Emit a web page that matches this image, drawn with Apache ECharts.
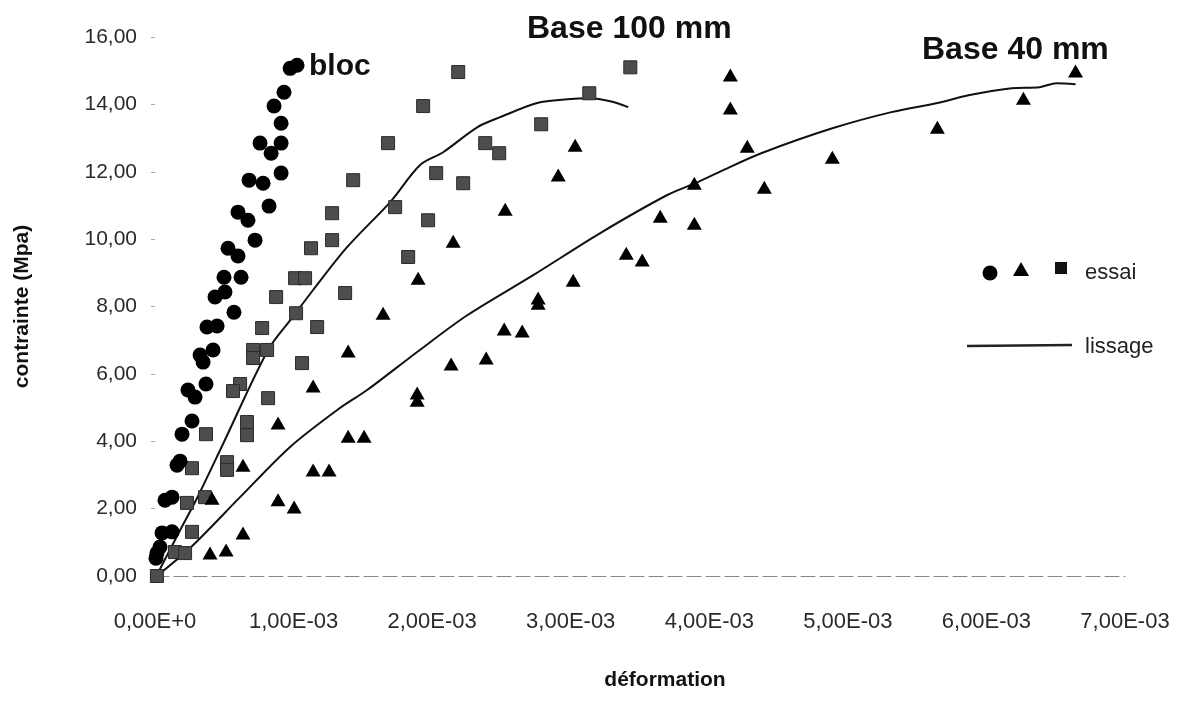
<!DOCTYPE html>
<html>
<head>
<meta charset="utf-8">
<title>contrainte - déformation</title>
<script src="https://cdn.jsdelivr.net/npm/echarts@6/dist/echarts.min.js"></script>
<style>
  html, body { margin: 0; padding: 0; background: #fff; }
  #main { width: 1188px; height: 714px; }
</style>
</head>
<body>
<div id="main"></div>
<script>
// essais "bloc" (cercles) : [déformation, contrainte MPa]
var blocPoints = [
  [0.000007, 0.53], [0.000014, 0.68], [0.000036, 0.86], [0.000051, 1.28], [0.000123, 1.31],
  [0.000072, 2.25], [0.000123, 2.34], [0.000159, 3.29], [0.000181, 3.41], [0.000195, 4.21],
  [0.000267, 4.60], [0.000289, 5.31], [0.000238, 5.52], [0.000368, 5.70], [0.000347, 6.35],
  [0.000325, 6.56], [0.000419, 6.71], [0.000375, 7.39], [0.000448, 7.42], [0.000570, 7.83],
  [0.000433, 8.28], [0.000505, 8.43], [0.000498, 8.87], [0.000621, 8.87], [0.000599, 9.50],
  [0.000527, 9.73], [0.000722, 9.97], [0.000671, 10.56], [0.000599, 10.80], [0.000823, 10.98],
  [0.000780, 11.66], [0.000679, 11.75], [0.000910, 11.96], [0.000838, 12.55], [0.000758, 12.85],
  [0.000910, 12.85], [0.000910, 13.44], [0.000859, 13.95], [0.000931, 14.36], [0.000975, 15.07],
  [0.001025, 15.16]
];

// essais base 100 mm (carrés)
var base100Points = [
  [0.000014, 0.00], [0.000144, 0.71], [0.000217, 0.68], [0.000267, 1.31], [0.000231, 2.17],
  [0.000361, 2.34], [0.000267, 3.20], [0.000520, 3.38], [0.000520, 3.15], [0.000368, 4.21],
  [0.000664, 4.57], [0.000664, 4.18], [0.000816, 5.28], [0.000614, 5.70], [0.000563, 5.49],
  [0.000708, 6.71], [0.000809, 6.71], [0.000708, 6.47], [0.001061, 6.32], [0.000773, 7.36],
  [0.001018, 7.80], [0.001170, 7.39], [0.000874, 8.28], [0.001011, 8.84], [0.001083, 8.84],
  [0.001372, 8.40], [0.001126, 9.73], [0.001278, 9.97], [0.001278, 10.77], [0.001827, 9.47],
  [0.001733, 10.95], [0.001971, 10.56], [0.001430, 11.75], [0.002029, 11.96], [0.002224, 11.66],
  [0.001682, 12.85], [0.002383, 12.85], [0.002484, 12.55], [0.001935, 13.95], [0.002787, 13.41],
  [0.002188, 14.96], [0.003134, 14.33], [0.003430, 15.10]
];

// essais base 40 mm (triangles)
var base40Points = [
  [0.000397, 0.68], [0.000513, 0.77], [0.000635, 1.28], [0.000412, 2.31], [0.000888, 2.26],
  [0.001004, 2.05], [0.001141, 3.15], [0.001256, 3.15], [0.000635, 3.29], [0.001394, 4.15],
  [0.001509, 4.15], [0.000888, 4.54], [0.001141, 5.64], [0.001892, 5.43], [0.001892, 5.22],
  [0.001394, 6.68], [0.002137, 6.29], [0.002390, 6.47], [0.002520, 7.33], [0.002650, 7.27],
  [0.001646, 7.80], [0.002765, 8.25], [0.002765, 8.10], [0.003018, 8.78], [0.001899, 8.84],
  [0.002152, 9.94], [0.003401, 9.58], [0.003516, 9.38], [0.002527, 10.89], [0.003646, 10.68],
  [0.003892, 10.47], [0.002910, 11.90], [0.003892, 11.66], [0.004397, 11.54], [0.003032, 12.79],
  [0.004274, 12.76], [0.004888, 12.43], [0.005646, 13.32], [0.004152, 13.89], [0.004152, 14.87],
  [0.006267, 14.18], [0.006643, 14.99]
];

// courbes de lissage
var lissage100 = [
  [0.000014, 0.03], [0.000181, 1.36], [0.000303, 2.31], [0.000491, 3.92], [0.000816, 6.71],
  [0.000989, 7.66], [0.001141, 8.49], [0.001386, 9.76], [0.001697, 11.10], [0.001913, 12.20],
  [0.002079, 12.58], [0.002325, 13.32], [0.002491, 13.62], [0.002758, 14.04], [0.002975, 14.15],
  [0.003141, 14.18], [0.003285, 14.09], [0.003415, 13.92]
];
var lissage40 = [
  [0.000022, 0.03], [0.000253, 0.83], [0.000614, 2.34], [0.000975, 3.83], [0.001336, 4.99],
  [0.001531, 5.52], [0.001892, 6.65], [0.002253, 7.74], [0.002729, 8.93], [0.003213, 10.18],
  [0.003697, 11.31], [0.003899, 11.66], [0.004101, 12.05], [0.004375, 12.55], [0.004888, 13.29],
  [0.005314, 13.77], [0.005646, 14.04], [0.005870, 14.27], [0.006181, 14.48], [0.006383, 14.51],
  [0.006505, 14.63], [0.006643, 14.60]
];

var xTickLabels = ["0,00E+0", "1,00E-03", "2,00E-03", "3,00E-03", "4,00E-03", "5,00E-03", "6,00E-03", "7,00E-03"];
var yTickLabels = ["0,00", "2,00", "4,00", "6,00", "8,00", "10,00", "12,00", "14,00", "16,00"];

var FONT = '"Liberation Sans", Arial, sans-serif';
var chart = echarts.init(document.getElementById("main"));

chart.setOption({
  backgroundColor: "#fff",
  animation: false,
  grid: { left: 155, right: 63, top: 37, bottom: 138 },
  xAxis: {
    type: "value",
    min: 0,
    max: 0.007,
    interval: 0.001,
    name: "déformation",
    nameLocation: "middle",
    nameGap: 94,
    nameTextStyle: { fontFamily: FONT, fontSize: 21, fontWeight: "bold", color: "#111", padding: [0, 0, 0, 50] },
    axisLine: { show: true, lineStyle: { color: "#888", width: 1, type: [14, 5] } },
    axisTick: { show: false },
    splitLine: { show: false },
    axisLabel: {
      margin: 35,
      fontFamily: FONT,
      fontSize: 22,
      color: "#2a2a2a",
      formatter: function (v) { return xTickLabels[Math.round(v / 0.001)]; }
    }
  },
  yAxis: {
    type: "value",
    min: 0,
    max: 16,
    interval: 2,
    name: "contrainte (Mpa)",
    nameLocation: "middle",
    nameGap: 122,
    nameTextStyle: { fontFamily: FONT, fontSize: 21, fontWeight: "bold", color: "#111" },
    axisLine: { show: false },
    axisTick: { show: true, length: 4, lineStyle: { color: "#aaa" } },
    splitLine: { show: false },
    axisLabel: {
      margin: 18,
      fontFamily: FONT,
      fontSize: 21,
      color: "#2a2a2a",
      formatter: function (v) { return yTickLabels[Math.round(v / 2)]; }
    }
  },
  series: [
    {
      name: "lissage base 40 mm",
      type: "line",
      data: lissage40,
      smooth: 0.3,
      showSymbol: false,
      lineStyle: { color: "#111", width: 2 },
      z: 1
    },
    {
      name: "lissage base 100 mm",
      type: "line",
      data: lissage100,
      smooth: 0.3,
      showSymbol: false,
      lineStyle: { color: "#111", width: 2 },
      z: 1
    },
    {
      name: "bloc",
      type: "scatter",
      symbol: "circle",
      symbolSize: 15,
      data: blocPoints,
      itemStyle: { color: "#000", opacity: 1 },
      z: 3
    },
    {
      name: "base 100 mm",
      type: "scatter",
      symbol: "rect",
      symbolSize: 13,
      data: base100Points,
      itemStyle: { color: "#4d4d4d", borderColor: "#2a2a2a", borderWidth: 1, opacity: 1 },
      z: 2
    },
    {
      name: "base 40 mm",
      type: "scatter",
      symbol: "triangle",
      symbolSize: [15, 13],
      data: base40Points,
      itemStyle: { color: "#000", opacity: 1 },
      z: 2
    }
  ],
  graphic: [
    { type: "text", left: 309, top: 52, style: { text: "bloc", fontFamily: FONT, fontSize: 30, fontWeight: "bold", fill: "#111" } },
    { type: "text", left: 527, top: 13, style: { text: "Base 100 mm", fontFamily: FONT, fontSize: 32, fontWeight: "bold", fill: "#111" } },
    { type: "text", left: 922, top: 34, style: { text: "Base 40 mm", fontFamily: FONT, fontSize: 32, fontWeight: "bold", fill: "#111" } },
    // légende
    { type: "circle", shape: { cx: 990, cy: 273, r: 7.5 }, style: { fill: "#000" } },
    { type: "polygon", shape: { points: [[1021, 262], [1013, 276], [1029, 276]] }, style: { fill: "#000" } },
    { type: "rect", shape: { x: 1055, y: 262, width: 12, height: 12 }, style: { fill: "#111" } },
    { type: "text", left: 1085, top: 262, style: { text: "essai", fontFamily: FONT, fontSize: 22, fill: "#222" } },
    { type: "line", shape: { x1: 967, y1: 346, x2: 1072, y2: 345 }, style: { stroke: "#222", lineWidth: 2.5 } },
    { type: "text", left: 1085, top: 336, style: { text: "lissage", fontFamily: FONT, fontSize: 22, fill: "#222" } }
  ]
});
</script>
</body>
</html>
